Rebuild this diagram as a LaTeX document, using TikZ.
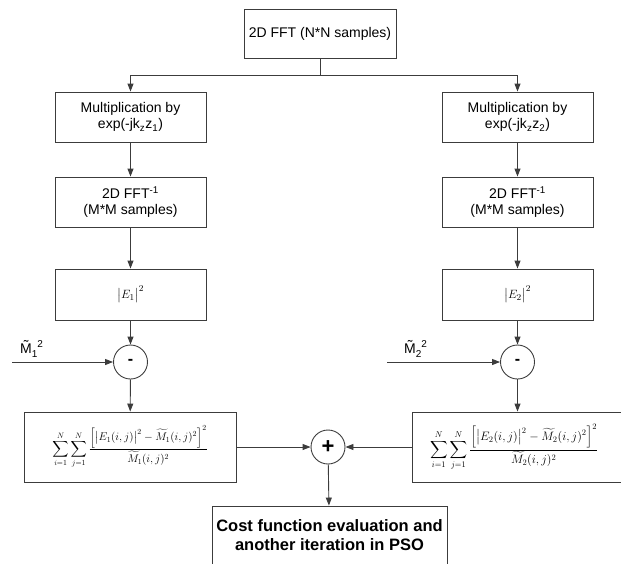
\documentclass[tikz,border=0pt]{standalone}
\usepackage{amsmath}
\usepackage{graphicx}
\usepackage[no-math]{fontspec}
\setmainfont{Liberation Sans}
\usetikzlibrary{arrows.meta}
\definecolor{linec}{HTML}{3C3C3C}
\tikzset{
  box/.style={draw=linec, line width=0.9pt, rectangle, inner sep=2pt, align=center,
    font=\fontsize{14}{16.5}\selectfont},
  sumcirc/.style={draw=linec, line width=0.9pt, circle, minimum size=34pt, inner sep=0pt},
  conn/.style={draw=linec, line width=0.9pt},
  arr/.style={conn, -{Triangle[length=8pt,width=6pt]}},
  lbl/.style={inner sep=0pt, font=\fontsize{14}{16}\selectfont}
}
\begin{document}
\begin{tikzpicture}[x=1pt, y=-1pt]
\useasboundingbox (0,0) rectangle (621,563);
% top
\node[box, minimum width=152pt, minimum height=49pt] (top) at (320,33.5) {2D FFT (N*N samples)};
\coordinate (j) at (320,75);
% left column
\node[box, minimum width=151pt, minimum height=50pt] (m1) at (130.5,117) {Multiplication by\\exp(-jk\textsubscript{z}z\textsubscript{1})};
\node[box, minimum width=151pt, minimum height=50pt] (f1) at (130.5,202) {2D FFT\textsuperscript{-1}\\(M*M samples)};
\node[box, minimum width=151pt, minimum height=51pt] (e1) at (130.5,294.5) {\fontsize{13}{15}\selectfont$\bigl|E_1\bigr|^2$};
\node[sumcirc] (c1) at (130.5,362) {\fontsize{16}{16}\selectfont\bfseries -};
\coordinate (in1) at (12,362);
\node[lbl, anchor=base west] (l1) at (20,353) {\~{M}\raisebox{-4pt}{\fontsize{10}{10}\selectfont 1}\raisebox{6pt}{\fontsize{10}{10}\selectfont 2}};
% right column
\node[box, minimum width=151pt, minimum height=50pt] (m2) at (517.5,117) {Multiplication by\\exp(-jk\textsubscript{z}z\textsubscript{2})};
\node[box, minimum width=151pt, minimum height=50pt] (f2) at (517.5,202) {2D FFT\textsuperscript{-1}\\(M*M samples)};
\node[box, minimum width=151pt, minimum height=51pt] (e2) at (517.5,294.5) {\fontsize{13}{15}\selectfont$\bigl|E_2\bigr|^2$};
\node[sumcirc] (c2) at (517.5,362) {\fontsize{16}{16}\selectfont\bfseries -};
\coordinate (in2) at (387,362);
\node[lbl, anchor=base west] (l2) at (404,353) {\~{M}\raisebox{-4pt}{\fontsize{10}{10}\selectfont 2}\raisebox{6pt}{\fontsize{10}{10}\selectfont 2}};
% sum boxes
\node[box, minimum width=212pt, minimum height=70pt] (s1) at (130,447) {\resizebox{155pt}{!}{$\displaystyle\sum_{i=1}^{N}\sum_{j=1}^{N}\frac{\Bigl[\bigl|E_1(i,j)\bigr|^2-\widetilde{M}_1(i,j)^2\Bigr]^2}{\widetilde{M}_1(i,j)^2}$}};
\node[box, minimum width=210pt, minimum height=70pt] (s2) at (517,447) {\hspace*{-6pt}\resizebox{168pt}{!}{$\displaystyle\sum_{i=1}^{N}\sum_{j=1}^{N}\frac{\Bigl[\bigl|E_2(i,j)\bigr|^2-\widetilde{M}_2(i,j)^2\Bigr]^2}{\widetilde{M}_2(i,j)^2}$}};
\node[sumcirc] (plus) at (328,447) {\fontsize{22}{22}\selectfont\bfseries +};
% bottom
\node[box, minimum width=235pt, minimum height=70pt] (cost) at (329.5,541) {};
\node[inner sep=0pt, align=center, font=\fontsize{16.5}{19}\selectfont\bfseries] (costtext) at (329.5,535) {Cost function evaluation and\\another iteration in PSO};
% connectors
\draw[conn] (top.south) -- (j);
\draw[arr] (j) -| (m1.north);
\draw[arr] (j) -| (m2.north);
\draw[arr] (m1) -- (f1);
\draw[arr] (f1) -- (e1);
\draw[arr] (e1) -- (c1);
\draw[arr] (c1) -- (s1);
\draw[arr] (in1) -- (c1);
\draw[arr] (m2) -- (f2);
\draw[arr] (f2) -- (e2);
\draw[arr] (e2) -- (c2);
\draw[arr] (c2) -- (s2.north -| c2);
\draw[arr] (in2) -- (c2);
\draw[arr] (s1.east) -- (plus.west);
\draw[arr] (s2.west) -- (plus.east);
\draw[arr] (plus) -- (cost);
\end{tikzpicture}
\end{document}
